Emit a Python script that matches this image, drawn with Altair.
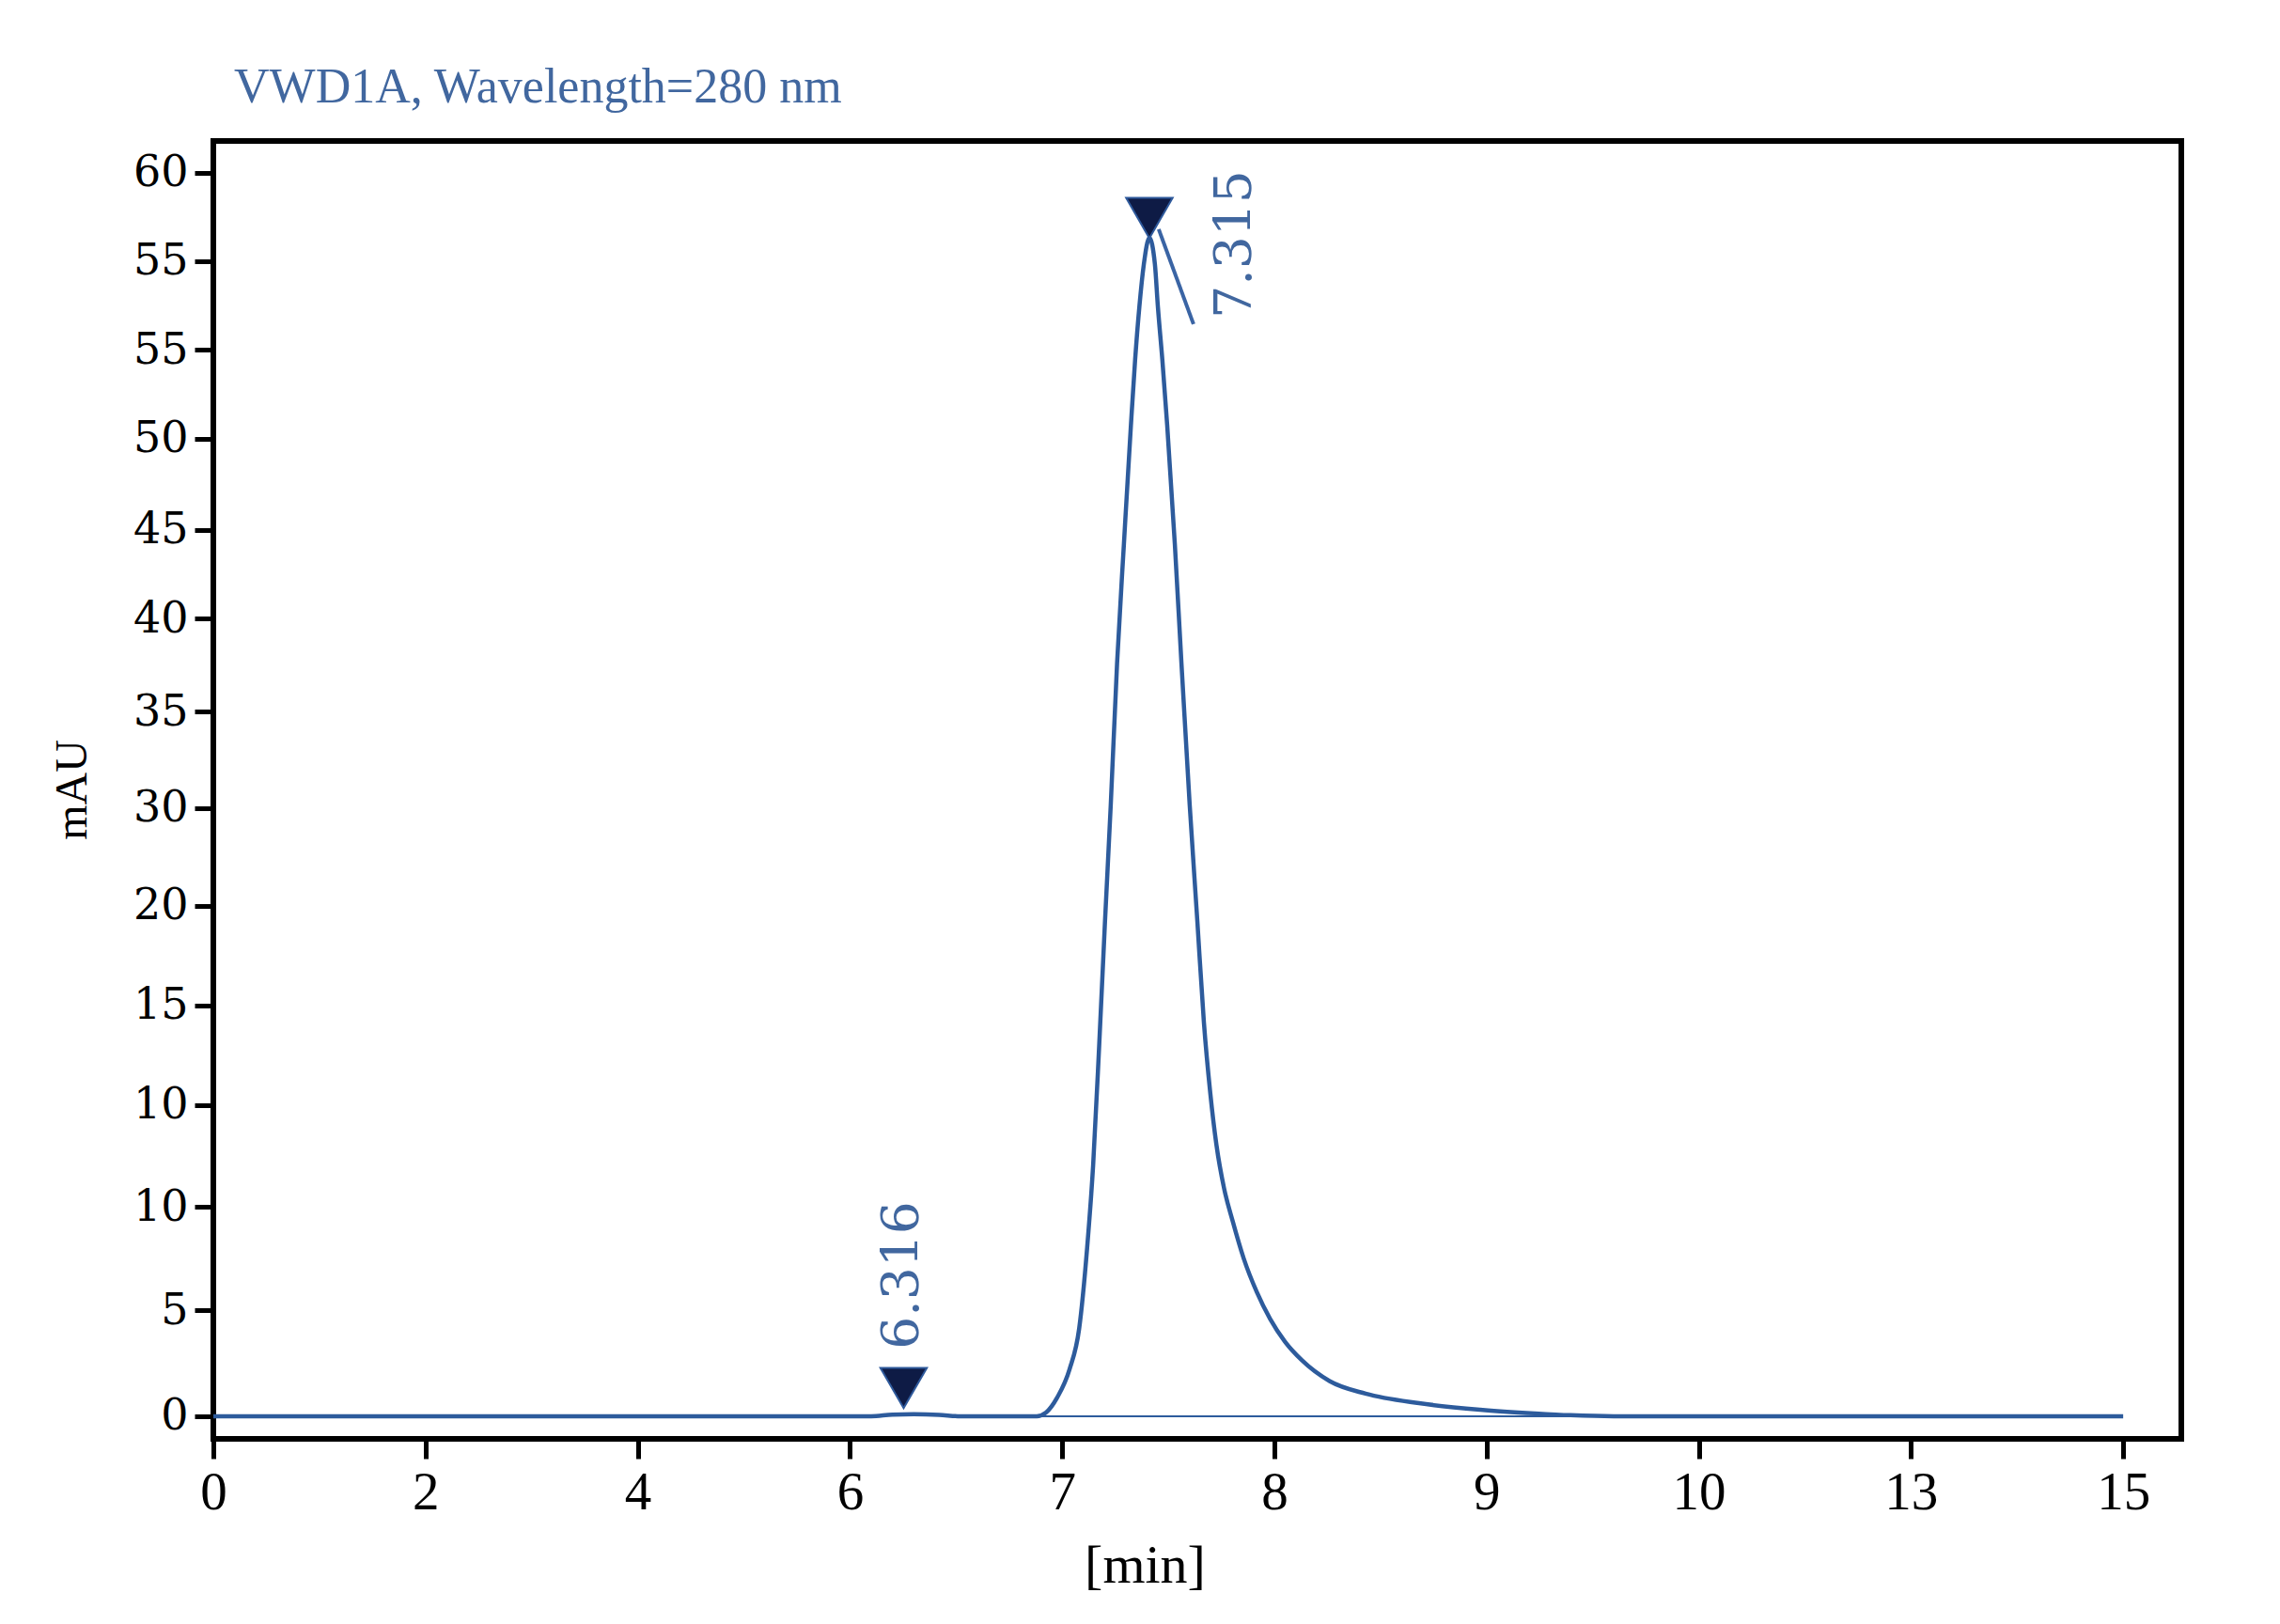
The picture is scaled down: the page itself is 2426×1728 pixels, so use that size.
import json
import altair as alt
import pandas as pd

# ---------------- data ----------------
# x is expressed in tick-slot units (the axis ticks are evenly spaced)
x_tick_values = [0, 1, 2, 3, 4, 5, 6, 7, 8, 9]
x_tick_labels = ["0", "2", "4", "6", "7", "8", "9", "10", "13", "15"]

y_tick_values = [0, 5.12, 10.11, 15.01, 19.82, 24.63, 29.36, 33.99, 38.50, 42.78, 47.18, 51.47, 55.74, 60.0]
y_tick_labels = ["0", "5", "10", "10", "15", "20", "30", "35", "40", "45", "50", "55", "55", "60"]

trace_x = [0, 1, 2, 3.0, 3.10, 3.20, 3.30, 3.42, 3.52, 3.70,
           3.88, 3.924, 3.977, 4.035, 4.080, 4.118, 4.146, 4.175, 4.202, 4.229, 4.259,
           4.291, 4.324, 4.344, 4.364, 4.385, 4.411,
           4.437, 4.451, 4.472, 4.495, 4.531, 4.562, 4.601, 4.637, 4.668, 4.698, 4.727,
           4.763, 4.804, 4.856, 4.917, 4.980, 5.050, 5.130, 5.260, 5.430, 5.682, 5.970,
           6.227, 6.395, 6.6, 7, 8, 9]
trace_y = [0, 0, 0, 0, 0, 0.08, 0.10, 0.07, 0, 0,
           0, 0.18, 0.91, 2.27, 4.22, 8.16, 12.11, 18.0, 23.9, 29.5, 36.37,
           42.09, 47.82, 51.0, 53.56, 55.6, 56.87,
           55.6, 53.56, 51.0, 47.82, 42.09, 36.37, 29.5, 23.9, 19.0, 15.6, 13.1,
           11.0, 9.4, 7.6, 6.0, 4.7, 3.6, 2.7, 1.70, 1.09, 0.63, 0.32,
           0.14, 0.05, 0, 0, 0, 0]

baseline_x = [3.88]
baseline_x2 = [6.40]
baseline_y = [0.0]

peak_x = [3.253, 4.411]
peak_y = [0.41, 56.87]

label_text = ["6.316", "7.315"]
label_x = [3.246, 4.814]
label_y = [6.80, 56.55]

leader_x = [4.455]
leader_y = [57.28]
leader_x2 = [4.619]
leader_y2 = [52.70]

# ---------------- chart ----------------
BLUE = "#2d5b9c"
TEXT_BLUE = "#41679f"

x_scale = alt.Scale(domain=[0, 9.274], nice=False, zero=False)
y_scale = alt.Scale(domain=[-1.09, 61.54], nice=False, zero=False)

x_label_expr = json.dumps(x_tick_labels) + "[datum.value]"
y_label_expr = json.dumps(y_tick_labels) + "[indexof(" + json.dumps(y_tick_values) + ", datum.value)]"

x_axis = alt.Axis(
    values=x_tick_values, labelExpr=x_label_expr, title="[min]",
    grid=False, domain=False, ticks=True, tickSize=21, tickWidth=5, tickColor="black",
    labelFont="Liberation Serif", labelFontSize=57, labelColor="black", labelPadding=8,
    labelFlush=False, labelOverlap=False, labelBound=False,
    titleFont="Liberation Serif", titleFontSize=58, titleFontWeight="normal", titleColor="black",
    titleX=991, titleY=152, titleAlign="center", titleBaseline="alphabetic",
)
y_axis = alt.Axis(
    values=y_tick_values, labelExpr=y_label_expr, title="mAU",
    grid=False, domain=False, ticks=True, tickSize=20, tickWidth=5, tickColor="black",
    labelFont="DejaVu Serif", labelFontSize=46, labelColor="black", labelPadding=7,
    labelFlush=False, labelOverlap=False, labelBound=False,
    titleFont="Liberation Serif", titleFontSize=48, titleFontWeight="normal", titleColor="black",
    titleAngle=270, titleX=-150, titleY=690, titleAlign="center", titleBaseline="middle",
)

X = alt.X("x:Q", scale=x_scale, axis=x_axis)
Y = alt.Y("y:Q", scale=y_scale, axis=y_axis)

trace_df = pd.DataFrame({"x": trace_x, "y": trace_y})
base_df = pd.DataFrame({"x": baseline_x, "x2": baseline_x2, "y": baseline_y})
peak_df = pd.DataFrame({"x": peak_x, "y": peak_y})
label_df = pd.DataFrame({"x": label_x, "y": label_y, "t": label_text})
leader_df = pd.DataFrame({"x": leader_x, "y": leader_y, "x2": leader_x2, "y2": leader_y2})

baseline = alt.Chart(base_df).mark_rule(color=BLUE, strokeWidth=2).encode(x=X, x2="x2:Q", y=Y)
trace = alt.Chart(trace_df).mark_line(color=BLUE, strokeWidth=4.5, interpolate="monotone").encode(x=X, y=Y)
leader = alt.Chart(leader_df).mark_rule(color="#3a64a4", strokeWidth=4).encode(x=X, y=Y, x2="x2:Q", y2="y2:Q")
triangles = alt.Chart(peak_df).mark_point(
    shape="triangle-down", filled=True, fill="#0e1b45", stroke="#2f5a9c", strokeWidth=2,
    size=2450, opacity=1, yOffset=-21,
).encode(x=X, y=Y)
labels = alt.Chart(label_df).mark_text(
    font="DejaVu Serif", fontSize=55, color=TEXT_BLUE, angle=270, align="center", baseline="middle",
).encode(x=X, y=Y, text="t:N")

chart = alt.layer(baseline, trace, leader, triangles, labels).properties(
    width=2094, height=1381,
    autosize=alt.AutoSizeParams(type="none"),
    padding={"left": 219, "top": 142, "right": 90, "bottom": 190},
    title=alt.TitleParams(
        text="VWD1A, Wavelength=280 nm", anchor="start", frame="group", font="Liberation Serif",
        fontSize=52, fontWeight="normal", color=TEXT_BLUE, offset=-11, dx=22, baseline="alphabetic",
    ),
).configure(
    background="white",
    view=alt.ViewConfig(stroke="black", strokeWidth=6),
)

chart.save("out.html", embed_options={"renderer": "svg", "actions": False})
